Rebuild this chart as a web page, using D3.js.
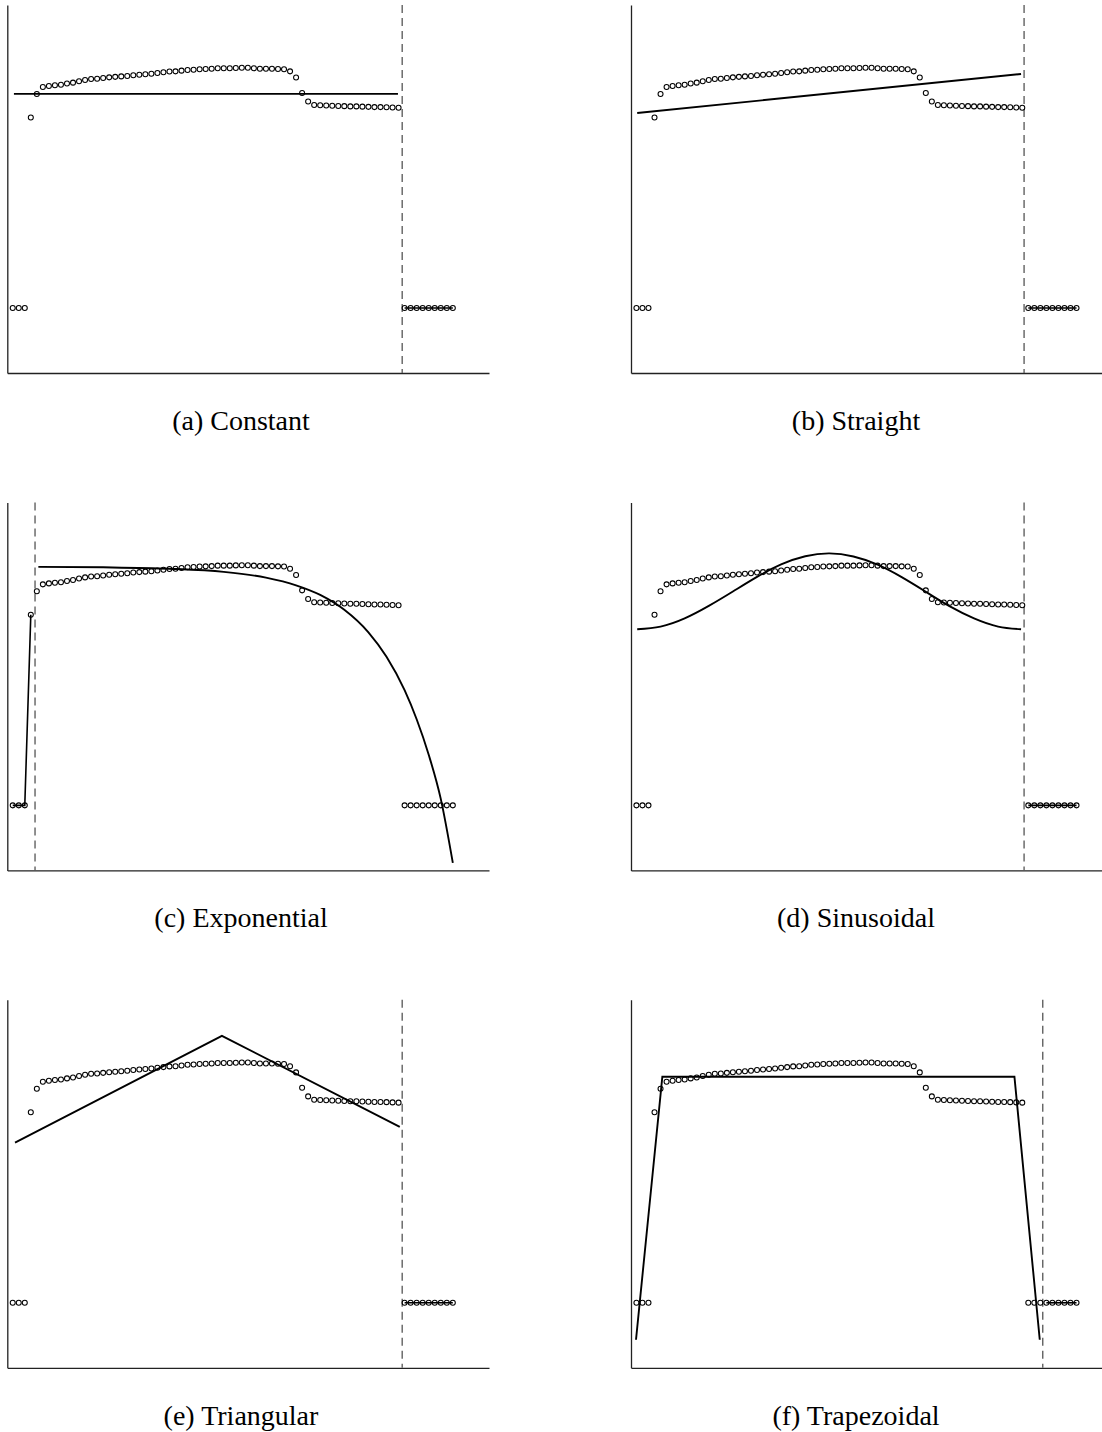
<!DOCTYPE html>
<html>
<head>
<meta charset="utf-8">
<script src="https://cdn.jsdelivr.net/npm/d3@7"></script>
<style>
  html, body { margin: 0; padding: 0; background: #fff; }
  svg { display: block; }
</style>
</head>
<body>
<script>
// ---------- data ----------
// observation index along the horizontal axis
const obsIndex = d3.range(74);
// observed values (same data in every panel)
const obsValues = [
  0, 0, 0, 0.794, 0.892, 0.921, 0.925, 0.928, 0.930, 0.935,
  0.939, 0.945, 0.950, 0.954, 0.955, 0.958, 0.961, 0.963, 0.965, 0.967,
  0.970, 0.972, 0.974, 0.976, 0.979, 0.982, 0.985, 0.986, 0.989, 0.992,
  0.993, 0.995, 0.996, 0.997, 0.999, 0.999, 0.999, 1.000, 1.001, 1.001,
  0.999, 0.997, 0.997, 0.997, 0.996, 0.995, 0.986, 0.960, 0.896, 0.860,
  0.846, 0.845, 0.844, 0.843, 0.842, 0.841, 0.840, 0.840, 0.839, 0.838,
  0.837, 0.837, 0.836, 0.835, 0.834,
  0, 0, 0, 0, 0, 0, 0, 0, 0
];

// fitted model curves, as [index, value] pairs
const constantFit = [[0.2, 0.892], [63.9, 0.892]];
const straightFit = [[0.13, 0.8125], [63.8, 0.975]];
const exponentialFit = [
  [4.25, 0.994], [15, 0.992], [26, 0.986], [35, 0.973], [42, 0.949],
  [47, 0.917], [51, 0.877], [55, 0.815], [59, 0.721], [62, 0.619],
  [65, 0.480], [67, 0.359], [69, 0.211], [71, 0.027], [73, -0.24]
];
const sinusoidalFit = [
  [0.13, 0.734], [4, 0.745], [8, 0.779], [12, 0.831], [16, 0.891],
  [20, 0.952], [24, 1.004], [28, 1.038], [32, 1.050], [36, 1.037],
  [40, 1.003], [44, 0.951], [48, 0.890], [52, 0.829], [56, 0.779],
  [60, 0.745], [63.8, 0.734]
];
const triangularFit = [[0.38, 0.667], [34.7, 1.1125], [64.2, 0.733]];
const trapezoidalFit = [[-0.07, -0.154], [4.3, 0.942], [62.7, 0.942], [66.9, -0.154]];

// fit-window boundary (dashed line) per panel, and the side that lies outside it
const boundaries = [64.6, 64.3, 3.7, 64.3, 64.6, 67.4];
const outsideSides = ["right", "right", "left", "right", "right", "right"];

const captions = ["(a) Constant", "(b) Straight", "(c) Exponential",
                  "(d) Sinusoidal", "(e) Triangular", "(f) Trapezoidal"];

// ---------- layout ----------
const W = 1102, H = 1432;
const colOffsets = [0, 623.7];
const rowOffsets = [0, 497.4, 994.8];
const captionCenters = [241, 856];

const svg = d3.select("body").append("svg")
  .attr("width", W).attr("height", H)
  .attr("viewBox", `0 0 ${W} ${H}`);
svg.append("rect").attr("width", W).attr("height", H).attr("fill", "#fff");

const x = d3.scaleLinear().domain([-0.9, 79]).range([7.3, 489]);
const y = d3.scaleLinear().domain([-0.271, 1.2625]).range([373, 5]);

const obs = obsIndex.map((i) => ({ i, v: obsValues[i] }));

const panels = [
  { fit: constantFit, curve: d3.curveLinear },
  { fit: straightFit, curve: d3.curveLinear },
  { fit: exponentialFit, curve: d3.curveMonotoneX },
  { fit: sinusoidalFit, curve: d3.curveNatural },
  { fit: triangularFit, curve: d3.curveLinear },
  { fit: trapezoidalFit, curve: d3.curveLinear }
];

panels.forEach((p, k) => {
  const col = k % 2, row = Math.floor(k / 2);
  const g = svg.append("g")
    .attr("transform", `translate(${colOffsets[col]},${rowOffsets[row]})`);

  // axes (spines only)
  const ax = g.append("g")
    .attr("transform", `translate(0,${y.range()[0]})`)
    .call(d3.axisBottom(x).tickValues([]).tickSizeOuter(0));
  const ay = g.append("g")
    .attr("transform", `translate(${x.range()[0]},0)`)
    .call(d3.axisLeft(y).tickValues([]).tickSizeOuter(0));
  [ax, ay].forEach((a) => a.select(".domain")
    .attr("stroke", "#222").attr("stroke-width", 1.3));

  // dashed boundary
  const b = boundaries[k];
  g.append("line")
    .attr("x1", x(b)).attr("x2", x(b))
    .attr("y1", y.range()[1]).attr("y2", y.range()[0])
    .attr("stroke", "#555").attr("stroke-width", 1.3)
    .attr("stroke-dasharray", "8,5");

  // fitted curve
  const line = d3.line().x((d) => x(d[0])).y((d) => y(d[1])).curve(p.curve);
  g.append("path").datum(p.fit)
    .attr("d", line)
    .attr("fill", "none").attr("stroke", "#000").attr("stroke-width", 1.9);

  // observed points outside the fitting window are joined
  const outside = obs.filter((d) => outsideSides[k] === "right" ? d.i > b : d.i < b);
  const oline = d3.line().x((d) => x(d.i)).y((d) => y(d.v));
  g.append("path").datum(outside)
    .attr("d", oline)
    .attr("fill", "none").attr("stroke", "#000").attr("stroke-width", 1.6);

  // observed points
  g.append("g").selectAll("circle").data(obs).join("circle")
    .attr("cx", (d) => x(d.i)).attr("cy", (d) => y(d.v))
    .attr("r", 2.5)
    .attr("fill", "none").attr("stroke", "#000").attr("stroke-width", 1.05);

  // caption
  svg.append("text")
    .attr("x", captionCenters[col])
    .attr("y", rowOffsets[row] + 430)
    .attr("text-anchor", "middle")
    .attr("font-family", "'Liberation Serif', 'Times New Roman', serif")
    .attr("font-size", 28)
    .attr("fill", "#000")
    .text(captions[k]);
});
</script>
</body>
</html>
